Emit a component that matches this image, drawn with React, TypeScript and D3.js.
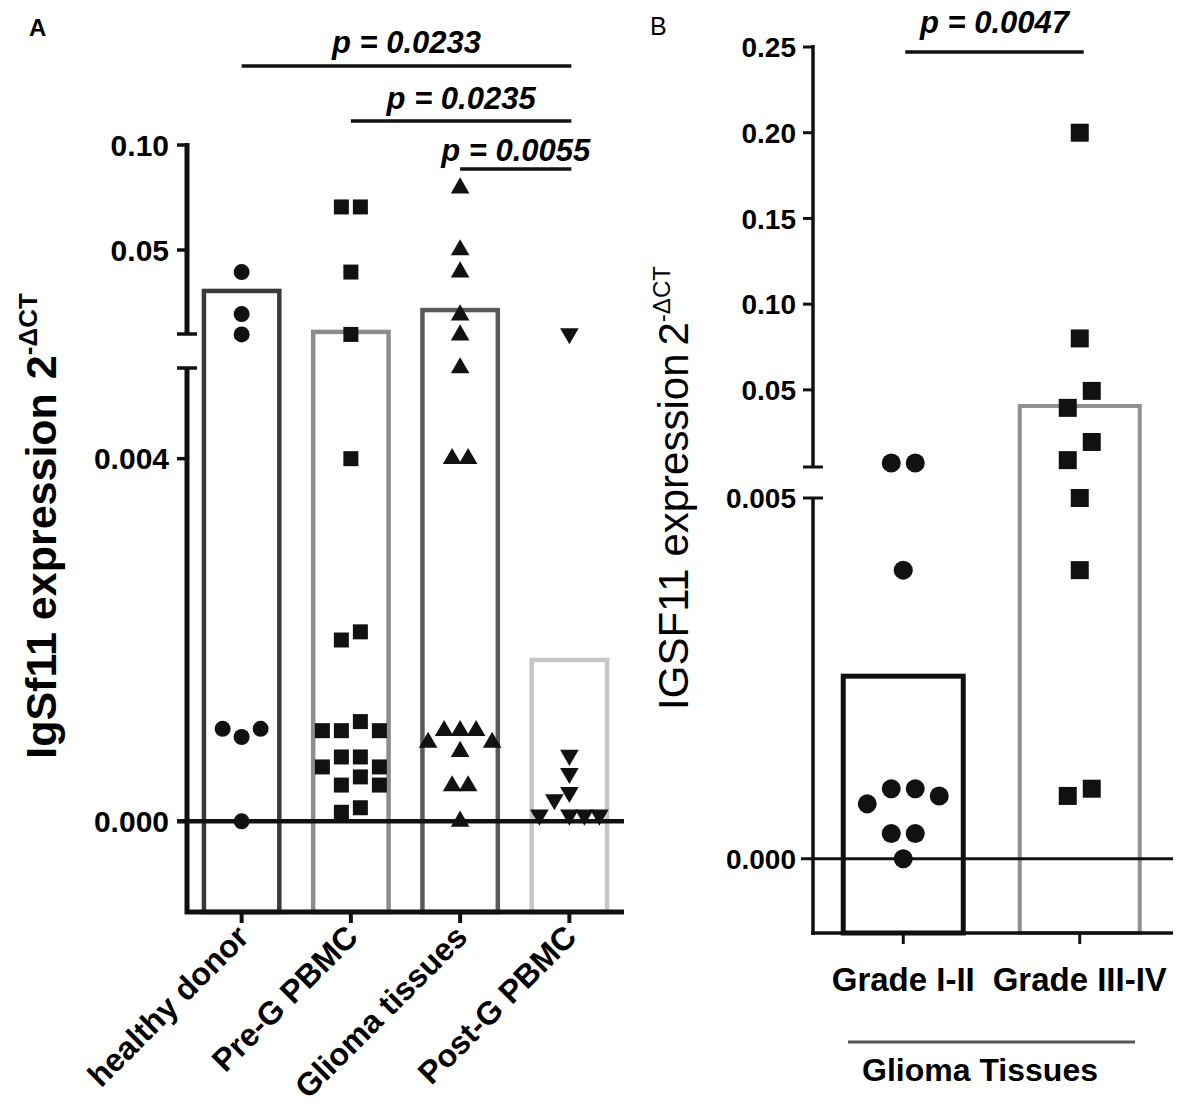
import React from "react";
import * as d3 from "d3";

// ---------- panel A : IgSf11 in blood / tissue ----------
const categoriesA = ["healthy donor", "Pre-G PBMC", "Glioma tissues", "Post-G PBMC"];
const meansA = [0.0305, 0.011, 0.0214, 0.00178];
const healthyDonor = [0.0395, 0.0195, 0.0098, 0.00093, 0.00102, 0.00102, 0.0];
const preGPbmc = [
  0.0705, 0.0705, 0.0395, 0.0098, 0.004, 0.00209, 0.002, 0.0011, 0.001, 0.001, 0.001,
  0.00071, 0.00071, 0.0006, 0.0006, 0.00049, 0.0004, 0.0004, 0.00015, 0.0001,
];
const gliomaTissues = [
  0.0795, 0.05, 0.0395, 0.019, 0.0095, 0.005, 0.004, 0.004, 0.001, 0.001, 0.001,
  0.00087, 0.00087, 0.00077, 0.00039, 0.00039, 0.0,
];
const postGPbmc = [0.0102, 0.00073, 0.00053, 0.00032, 0.00024, 0.00007, 0.00007, 0.00007, 0.00007];
const upperTicksA = [0.1, 0.05];
const lowerTicksA = [0.004, 0.0];
const pValuesA = ["p = 0.0233", "p = 0.0235", "p = 0.0055"];
const pairsA: [number, number][] = [[0, 3], [1, 3], [2, 3]];

// ---------- panel B : glioma grades ----------
const categoriesB = ["Grade I-II", "Grade III-IV"];
const meansB = [0.00253, 0.0406];
const gradeLow = [0.0073, 0.0073, 0.004, 0.00097, 0.00097, 0.00087, 0.00076, 0.00035, 0.00035, 0.0];
const gradeHigh = [0.2, 0.08, 0.0494, 0.0395, 0.0196, 0.009, 0.005, 0.004, 0.00097, 0.00087];
const upperTicksB = [0.25, 0.2, 0.15, 0.1, 0.05];
const lowerTicksB = [0.005, 0.0];
const pValueB = "p = 0.0047";

const FONT = "'Liberation Sans', Arial, Helvetica, sans-serif";
const f2 = d3.format(".2f");
const f3 = d3.format(".3f");

type Pt = { v: number; y: number; dx: number };

// simple column scatter: push points sideways until they don't overlap,
// then centre each vertically connected clump on the column
function swarm(values: number[], y: (v: number) => number, size: number, step: number): Pt[] {
  const pts: Pt[] = [];
  const cands = [0];
  for (let i = 1; i < 8; i++) cands.push(-i * step, i * step);
  values.forEach((v) => {
    const py = y(v);
    const dx =
      cands.find(
        (c) => !pts.some((p) => Math.abs(p.y - py) < size && Math.abs(p.dx - c) < step * 0.95)
      ) ?? 0;
    pts.push({ v, y: py, dx });
  });
  const order = pts.map((_, i) => i).sort((a, b) => pts[a].y - pts[b].y);
  let group: number[] = [];
  const flush = () => {
    if (!group.length) return;
    const xs = group.map((i) => pts[i].dx);
    const mid = ((d3.min(xs) as number) + (d3.max(xs) as number)) / 2;
    group.forEach((i) => (pts[i].dx -= mid));
    group = [];
  };
  let lastY = -Infinity;
  order.forEach((i) => {
    if (pts[i].y - lastY >= size) flush();
    group.push(i);
    lastY = pts[i].y;
  });
  flush();
  return pts;
}

const symbols: Record<string, d3.SymbolType> = {
  circle: d3.symbolCircle,
  square: d3.symbolSquare,
  triangle: d3.symbolTriangle,
  triangleDown: d3.symbolTriangle,
};

function Marker({ shape, x, y, area }: { shape: string; x: number; y: number; area: number }) {
  const d = d3.symbol().type(symbols[shape]).size(area)() || "";
  const rot = shape === "triangleDown" ? " rotate(180)" : "";
  return <path d={d} transform={`translate(${x},${y})${rot}`} fill="#111" />;
}

export default function App() {
  // ---- panel A scales (broken y axis) ----
  const xA = d3.scaleBand<string>().domain(categoriesA).range([187, 624]);
  const cxA = (c: string) => (xA(c) as number) + xA.bandwidth() / 2;
  const yAUp = d3.scaleLinear().domain([0.01, 0.1]).range([334, 145]);
  const yALow = d3.scaleLinear().domain([-0.001, 0.005]).range([912, 368]);
  const yA = (v: number) => (v > 0.0075 ? yAUp(v) : yALow(v));
  const baseA = yALow.range()[0];
  const barWA = xA.bandwidth() * 0.69;
  const axA = 187;

  const groupsA = [healthyDonor, preGPbmc, gliomaTissues, postGPbmc];
  const shapesA = ["circle", "square", "triangle", "triangleDown"];
  const areasA = [201, 225, 150, 150];
  const stepsA = [19, 19, 16, 15];
  const barColA = ["#3a3a3a", "#8c8c8c", "#5a5a5a", "#c6c6c6"];
  const sigY = [66, 121, 169];
  const sigTextY = [53, 109, 161];

  // ---- panel B scales ----
  const xB = d3.scaleBand<string>().domain(categoriesB).range([815, 1168]);
  const cxB = (c: string) => (xB(c) as number) + xB.bandwidth() / 2;
  const yBUp = d3.scaleLinear().domain([0.005, 0.25]).range([467, 47]);
  const yBLow = d3.scaleLinear().domain([-0.00103, 0.005]).range([933, 498]);
  const yB = (v: number) => (v > 0.0055 ? yBUp(v) : yBLow(v));
  const baseB = yBLow.range()[0];
  const barWB = xB.bandwidth() * 0.68;
  const axB = 813;

  const groupsB = [gradeLow, gradeHigh];
  const shapesB = ["circle", "square"];
  const areasB = [284, 324];
  const barColB = ["#111", "#909090"];

  return (
    <svg
      width={1182}
      height={1115}
      style={{ position: "absolute", left: 0, top: 0, background: "#fff" }}
      fontFamily={FONT}
    >
      <rect width={1182} height={1115} fill="#fff" />

      {/* ================= A ================= */}
      <text x={29} y={36} fontSize={24} fontWeight="bold">A</text>

      {meansA.map((m, i) => (
        <rect
          key={"ba" + i}
          x={cxA(categoriesA[i]) - barWA / 2}
          y={yA(m)}
          width={barWA}
          height={baseA - yA(m)}
          fill="none"
          stroke={barColA[i]}
          strokeWidth={4.5}
        />
      ))}

      {/* y axis, two segments */}
      <g stroke="#111" strokeWidth={5}>
        <line x1={axA} x2={axA} y1={yAUp.range()[1] - 2} y2={yAUp.range()[0]} />
        <line x1={axA} x2={axA} y1={yALow.range()[1]} y2={baseA + 2} />
      </g>
      <g stroke="#111" strokeWidth={3.5}>
        <line x1={axA - 10} x2={axA + 10} y1={yAUp.range()[0]} y2={yAUp.range()[0]} />
        <line x1={axA - 10} x2={axA + 10} y1={yALow.range()[1]} y2={yALow.range()[1]} />
        {upperTicksA.map((t) => (
          <line key={"ua" + t} x1={axA - 10} x2={axA} y1={yAUp(t)} y2={yAUp(t)} />
        ))}
        {lowerTicksA.map((t) => (
          <line key={"la" + t} x1={axA - 10} x2={axA} y1={yALow(t)} y2={yALow(t)} />
        ))}
      </g>
      <g fontSize={30} fontWeight="bold" textAnchor="end">
        {upperTicksA.map((t) => (
          <text key={"uat" + t} x={axA - 18} y={yAUp(t)} dy="0.36em">{f2(t)}</text>
        ))}
        {lowerTicksA.map((t) => (
          <text key={"lat" + t} x={axA - 18} y={yALow(t)} dy="0.36em">{f3(t)}</text>
        ))}
      </g>

      {/* zero line and x axis */}
      <line x1={axA - 10} x2={624} y1={yALow(0)} y2={yALow(0)} stroke="#111" strokeWidth={4.5} />
      <line x1={axA - 2} x2={624} y1={baseA} y2={baseA} stroke="#111" strokeWidth={5} />
      {categoriesA.map((c) => (
        <line key={"cta" + c} x1={cxA(c)} x2={cxA(c)} y1={baseA} y2={baseA + 11} stroke="#111" strokeWidth={4} />
      ))}
      <g fontSize={32} fontWeight="bold" textAnchor="end">
        {categoriesA.map((c) => (
          <text key={"cla" + c} transform={`translate(${cxA(c) + 9},${baseA + 27}) rotate(-45)`}>{c}</text>
        ))}
      </g>

      {/* points */}
      {groupsA.map((vals, gi) =>
        swarm(vals, yA, 16, stepsA[gi]).map((p, i) => (
          <Marker
            key={`pa${gi}-${i}`}
            shape={shapesA[gi]}
            x={cxA(categoriesA[gi]) + p.dx}
            y={p.y}
            area={areasA[gi]}
          />
        ))
      )}

      {/* significance bars */}
      {pairsA.map(([a, b], i) => {
        const x1 = cxA(categoriesA[a]);
        const x2 = cxA(categoriesA[b]) + 2;
        return (
          <g key={"sa" + i}>
            <line x1={x1} x2={x2} y1={sigY[i]} y2={sigY[i]} stroke="#111" strokeWidth={3.5} />
            <text
              x={(x1 + x2) / 2}
              y={sigTextY[i]}
              textAnchor="middle"
              fontSize={31}
              fontWeight="bold"
              fontStyle="italic"
            >
              {pValuesA[i]}
            </text>
          </g>
        );
      })}

      <text
        transform="translate(56,526) rotate(-90)"
        textAnchor="middle"
        fontSize={43}
        fontWeight="bold"
      >
        IgSf11 expression
        <tspan dx={14}>2</tspan>
        <tspan fontSize={26} dy={-19}>-ΔCT</tspan>
      </text>

      {/* ================= B ================= */}
      <text x={650} y={35} fontSize={25}>B</text>

      {meansB.map((m, i) => (
        <rect
          key={"bb" + i}
          x={cxB(categoriesB[i]) - barWB / 2}
          y={yB(m)}
          width={barWB}
          height={baseB - yB(m)}
          fill="none"
          stroke={barColB[i]}
          strokeWidth={i === 0 ? 5 : 4}
        />
      ))}

      <g stroke="#111" strokeWidth={3.5}>
        <line x1={axB} x2={axB} y1={yBUp.range()[1] - 2} y2={yBUp.range()[0]} />
        <line x1={axB} x2={axB} y1={yBLow.range()[1]} y2={baseB + 2} />
      </g>
      <g stroke="#111" strokeWidth={3}>
        <line x1={axB - 10} x2={axB + 10} y1={yBUp.range()[0]} y2={yBUp.range()[0]} />
        <line x1={axB - 10} x2={axB + 10} y1={yBLow(0.005)} y2={yBLow(0.005)} />
        {upperTicksB.map((t) => (
          <line key={"ub" + t} x1={axB - 10} x2={axB} y1={yBUp(t)} y2={yBUp(t)} />
        ))}
      </g>
      <g fontSize={28} fontWeight="bold" textAnchor="end">
        {upperTicksB.map((t) => (
          <text key={"ubt" + t} x={axB - 17} y={yBUp(t)} dy="0.36em">{f2(t)}</text>
        ))}
        {lowerTicksB.map((t) => (
          <text key={"lbt" + t} x={axB - 17} y={yBLow(t)} dy="0.36em">{f3(t)}</text>
        ))}
      </g>

      <line x1={axB - 12} x2={1173} y1={yBLow(0)} y2={yBLow(0)} stroke="#111" strokeWidth={3} />
      <line x1={axB - 2} x2={1173} y1={baseB} y2={baseB} stroke="#111" strokeWidth={3.5} />
      {categoriesB.map((c) => (
        <line key={"ctb" + c} x1={cxB(c)} x2={cxB(c)} y1={baseB} y2={baseB + 11} stroke="#111" strokeWidth={3} />
      ))}
      <g fontSize={33} fontWeight="bold" textAnchor="middle">
        {categoriesB.map((c) => (
          <text key={"clb" + c} x={cxB(c)} y={991}>{c}</text>
        ))}
      </g>
      <line x1={848} x2={1135} y1={1042} y2={1042} stroke="#555" strokeWidth={3} />
      <text x={980} y={1081} fontSize={32} fontWeight="bold" textAnchor="middle">
        Glioma Tissues
      </text>

      {groupsB.map((vals, gi) =>
        swarm(vals, yB, 19, 24).map((p, i) => (
          <Marker
            key={`pb${gi}-${i}`}
            shape={shapesB[gi]}
            x={cxB(categoriesB[gi]) + p.dx}
            y={p.y}
            area={areasB[gi]}
          />
        ))
      )}

      <line
        x1={cxB(categoriesB[0]) + 2}
        x2={cxB(categoriesB[1]) + 4}
        y1={52}
        y2={52}
        stroke="#111"
        strokeWidth={3.5}
      />
      <text
        x={(cxB(categoriesB[0]) + cxB(categoriesB[1])) / 2 + 3}
        y={33}
        textAnchor="middle"
        fontSize={31}
        fontWeight="bold"
        fontStyle="italic"
      >
        {pValueB}
      </text>

      <text transform="translate(688,488) rotate(-90)" textAnchor="middle" fontSize={42}>
        IGSF11 expression
        <tspan dx={8}>2</tspan>
        <tspan fontSize={24} dy={-18}>-ΔCT</tspan>
      </text>
    </svg>
  );
}
